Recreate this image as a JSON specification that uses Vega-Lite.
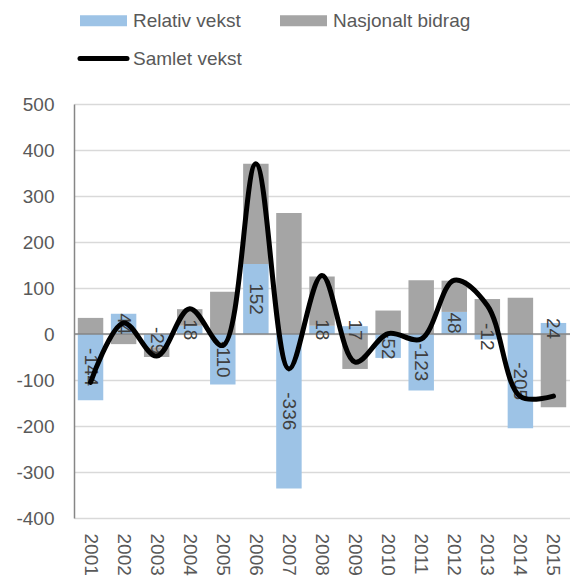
{
  "$schema": "https://vega.github.io/schema/vega-lite/v6.json",
  "width": 496,
  "height": 414,
  "autosize": {"type": "none"},
  "padding": {"left": 74, "top": 104, "right": 0, "bottom": 63},
  "background": "white",
  "config": {
    "view": {"stroke": null},
    "font": "Liberation Sans",
    "locale": {"number": {"decimal": ".", "thousands": ",", "grouping": [3], "currency": ["$", ""], "minus": "-"}}
  },
  "data": {
    "values": [
      {"year": "2001", "series": "Relativ vekst", "value": -144},
      {"year": "2002", "series": "Relativ vekst", "value": 44},
      {"year": "2003", "series": "Relativ vekst", "value": -29},
      {"year": "2004", "series": "Relativ vekst", "value": 18},
      {"year": "2005", "series": "Relativ vekst", "value": -110},
      {"year": "2006", "series": "Relativ vekst", "value": 152},
      {"year": "2007", "series": "Relativ vekst", "value": -336},
      {"year": "2008", "series": "Relativ vekst", "value": 18},
      {"year": "2009", "series": "Relativ vekst", "value": 17},
      {"year": "2010", "series": "Relativ vekst", "value": -52},
      {"year": "2011", "series": "Relativ vekst", "value": -123},
      {"year": "2012", "series": "Relativ vekst", "value": 48},
      {"year": "2013", "series": "Relativ vekst", "value": -12},
      {"year": "2014", "series": "Relativ vekst", "value": -205},
      {"year": "2015", "series": "Relativ vekst", "value": 24},
      {"year": "2001", "series": "Nasjonalt bidrag", "value": 35},
      {"year": "2002", "series": "Nasjonalt bidrag", "value": -22},
      {"year": "2003", "series": "Nasjonalt bidrag", "value": -21},
      {"year": "2004", "series": "Nasjonalt bidrag", "value": 36},
      {"year": "2005", "series": "Nasjonalt bidrag", "value": 92},
      {"year": "2006", "series": "Nasjonalt bidrag", "value": 218},
      {"year": "2007", "series": "Nasjonalt bidrag", "value": 263},
      {"year": "2008", "series": "Nasjonalt bidrag", "value": 107},
      {"year": "2009", "series": "Nasjonalt bidrag", "value": -76},
      {"year": "2010", "series": "Nasjonalt bidrag", "value": 51},
      {"year": "2011", "series": "Nasjonalt bidrag", "value": 117},
      {"year": "2012", "series": "Nasjonalt bidrag", "value": 68},
      {"year": "2013", "series": "Nasjonalt bidrag", "value": 76},
      {"year": "2014", "series": "Nasjonalt bidrag", "value": 79},
      {"year": "2015", "series": "Nasjonalt bidrag", "value": -159},
      {"year": "2001", "series": "Samlet vekst", "value": -105},
      {"year": "2002", "series": "Samlet vekst", "value": 24},
      {"year": "2003", "series": "Samlet vekst", "value": -48},
      {"year": "2004", "series": "Samlet vekst", "value": 55},
      {"year": "2005", "series": "Samlet vekst", "value": -25},
      {"year": "2006", "series": "Samlet vekst", "value": 370},
      {"year": "2007", "series": "Samlet vekst", "value": -76},
      {"year": "2008", "series": "Samlet vekst", "value": 127},
      {"year": "2009", "series": "Samlet vekst", "value": -61},
      {"year": "2010", "series": "Samlet vekst", "value": 1},
      {"year": "2011", "series": "Samlet vekst", "value": -11},
      {"year": "2012", "series": "Samlet vekst", "value": 117},
      {"year": "2013", "series": "Samlet vekst", "value": 62},
      {"year": "2014", "series": "Samlet vekst", "value": -136},
      {"year": "2015", "series": "Samlet vekst", "value": -135}
    ]
  },
  "resolve": {"scale": {"y": "independent"}, "axis": {"y": "independent"}},
  "layer": [
    {
      "transform": [{"filter": "datum.series !== 'Samlet vekst'"}],
      "mark": {"type": "bar"},
      "encoding": {
        "x": {
          "field": "year", "type": "ordinal",
          "scale": {"paddingInner": 0.23, "paddingOuter": 0.115},
          "axis": {"title": null, "labelAngle": 90, "labelFontSize": 19, "labelColor": "#595959", "ticks": false, "tickSize": 0, "domain": false, "grid": false, "labelPadding": 15}
        },
        "y": {
          "field": "value", "type": "quantitative", "stack": "zero",
          "scale": {"domain": [-400, 500], "nice": false},
          "axis": {"title": null, "values": [-400, -300, -200, -100, 0, 100, 200, 300, 400, 500], "grid": true, "gridColor": "#d9d9d9", "gridWidth": 1.3, "domain": true, "domainColor": "#868686", "domainWidth": 1.5, "ticks": false, "labelFontSize": 19, "labelColor": "#595959", "labelPadding": 20}
        },
        "color": {
          "field": "series", "type": "nominal",
          "scale": {"domain": ["Relativ vekst", "Nasjonalt bidrag", "Samlet vekst"], "range": ["#9dc3e6", "#a5a5a5", "#000000"]},
          "legend": {
            "orient": "none", "legendX": 20, "legendY": -93, "title": null, "columns": 2,
            "direction": "horizontal",
            "columnPadding": 16, "rowPadding": 5,
            "values": ["Relativ vekst", "Nasjonalt bidrag", "Samlet vekst"],
            "symbolType": "stroke", "symbolSize": 2209,
            "labelFontSize": 19, "labelColor": "#595959", "labelOffset": 20, "labelFont": "Liberation Sans",
            "encode": {
              "symbols": {
                "update": {
                  "stroke": {"signal": "scale('color', datum.value)"},
                  "strokeWidth": {"signal": "datum.value === 'Samlet vekst' ? 5 : 11"},
                  "strokeCap": {"signal": "datum.value === 'Samlet vekst' ? 'round' : 'butt'"},
                  "fill": {"value": "transparent"},
                  "opacity": {"value": 1}
                }
              }
            }
          }
        },
        "order": {"field": "series", "sort": "descending"}
      }
    },
    {
      "data": {"values": [{}]},
      "mark": {"type": "rule", "color": "#868686", "strokeWidth": 1.5},
      "encoding": {"y": {"datum": 0, "type": "quantitative", "scale": {"domain": [-400, 500], "nice": false}, "axis": null}}
    },
    {
      "transform": [{"filter": "datum.series === 'Relativ vekst'"}],
      "mark": {"type": "text", "angle": 90, "align": "center", "baseline": "middle", "fontSize": 19, "color": "#404040", "font": "Liberation Sans"},
      "encoding": {
        "x": {"field": "year", "type": "ordinal"},
        "y": {"field": "value", "type": "quantitative", "scale": {"domain": [-800, 1000], "nice": false}, "axis": null},
        "text": {"field": "value", "type": "quantitative"}
      }
    },
    {
      "transform": [{"filter": "datum.series === 'Samlet vekst'"}],
      "mark": {"type": "line", "interpolate": "catmull-rom", "strokeWidth": 5, "strokeCap": "round", "strokeJoin": "round"},
      "encoding": {
        "x": {"field": "year", "type": "ordinal"},
        "y": {"field": "value", "type": "quantitative", "scale": {"domain": [-400, 500], "nice": false}, "axis": null},
        "color": {"field": "series", "type": "nominal", "scale": {"domain": ["Relativ vekst", "Nasjonalt bidrag", "Samlet vekst"], "range": ["#9dc3e6", "#a5a5a5", "#000000"]}}
      }
    }
  ]
}
